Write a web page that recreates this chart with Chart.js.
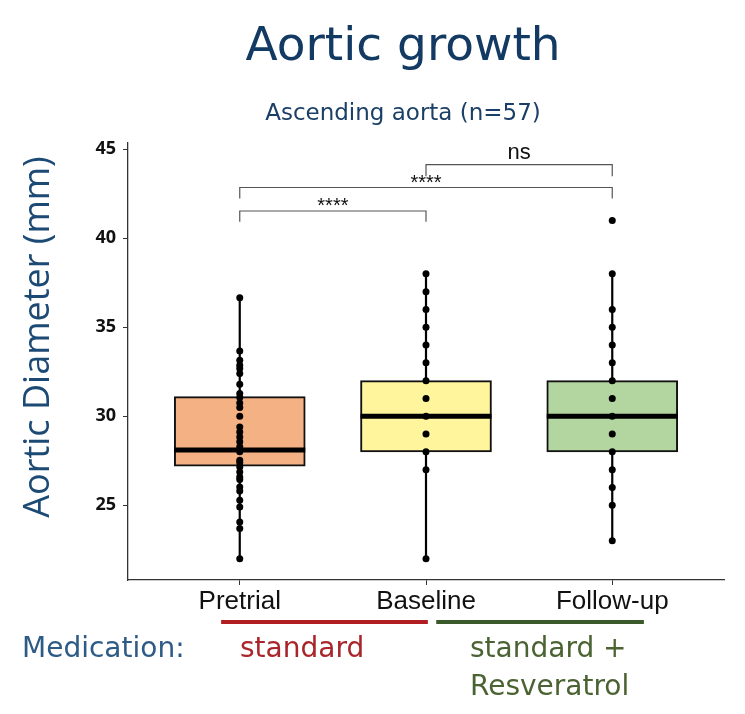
<!DOCTYPE html>
<html>
<head>
<meta charset="utf-8">
<title>Aortic growth</title>
<script src="https://cdn.jsdelivr.net/npm/chart.js@4.4.1/dist/chart.umd.min.js"></script>
<style>
  html, body { margin: 0; padding: 0; background: #fff; }
  #wrap { width: 745px; height: 714px; }
</style>
</head>
<body>
<div id="wrap"><canvas id="myChart" width="745" height="714"></canvas></div>
<script>
// groups on the x axis
const groups = ['Pretrial', 'Baseline', 'Follow-up'];
const groupPos = [1, 2, 3];
const boxColors = ['#f4b183', '#fff59d', '#b3d59f'];

// box statistics (mm)
const q1Values = [27.2, 28, 28];
const medianValues = [28.1, 30, 30];
const q3Values = [31.1, 32, 32];
const whiskerLow = [22, 22, 23];
const whiskerHigh = [36.65, 38, 38];

const pretrialPoints = [36.65, 33.67, 33.15, 32.87, 32.68, 32.4, 31.8, 31.28, 31.05, 30.75,
  30.49, 30.0, 29.4, 29.12, 28.84, 28.56, 28.28, 28.0, 27.53, 27.38, 27.15, 26.87,
  26.59, 26.44, 26.03, 25.8, 25.28, 24.9, 24.06, 23.69, 22.0];
const baselinePoints = [38, 37, 36, 35, 34, 33, 32, 31, 30, 29, 28, 27, 22];
const followupPoints = [41, 38, 36, 35, 34, 33, 32, 31, 30, 29, 28, 27, 26, 25, 23];

const yTicks = [25, 30, 35, 40, 45];

// significance brackets
const bracketFrom = [1, 1, 2];
const bracketTo = [2, 3, 3];
const bracketTop = [41.53, 42.85, 44.14];
const bracketLeg = [40.92, 42.23, 43.48];
const bracketText = ['****', '****', 'ns'];
const bracketTextY = [42.05, 43.3, 44.8];

const allPoints = [pretrialPoints, baselinePoints, followupPoints];

const datasets = [];

// dots
allPoints.forEach(function(pts, i) {
  datasets.push({
    type: 'scatter',
    data: pts.map(v => ({x: groupPos[i], y: v})),
    pointRadius: 3.5,
    pointStyle: 'circle',
    backgroundColor: '#000',
    borderWidth: 0,
    order: 0
  });
});

// medians
datasets.push({
  type: 'scatter',
  data: medianValues.map((v, i) => ({x: groupPos[i], y: v})),
  pointStyle: 'line',
  pointRadius: 65.5,
  borderColor: '#000',
  borderWidth: 5,
  order: 1
});

// boxes
datasets.push({
  type: 'bar',
  data: q1Values.map((v, i) => ({x: groupPos[i], y: [v, q3Values[i]]})),
  backgroundColor: boxColors,
  borderColor: '#111',
  borderWidth: 2,
  borderSkipped: false,
  barThickness: 131,
  order: 2
});

// whiskers
groupPos.forEach(function(p, i) {
  datasets.push({
    type: 'line',
    data: [{x: p, y: whiskerLow[i]}, {x: p, y: q1Values[i]}],
    borderColor: '#000', borderWidth: 2.2, pointRadius: 0, fill: false, order: 3
  });
  datasets.push({
    type: 'line',
    data: [{x: p, y: q3Values[i]}, {x: p, y: whiskerHigh[i]}],
    borderColor: '#000', borderWidth: 2.2, pointRadius: 0, fill: false, order: 3
  });
});

// brackets
bracketFrom.forEach(function(a, i) {
  const b = bracketTo[i];
  datasets.push({
    type: 'line',
    data: [{x: a, y: bracketLeg[i]}, {x: a, y: bracketTop[i]},
           {x: b, y: bracketTop[i]}, {x: b, y: bracketLeg[i]}],
    borderColor: '#555', borderWidth: 1.2, pointRadius: 0, fill: false, order: 3
  });
});

const textPlugin = {
  id: 'texts',
  afterDraw(chart) {
    const ctx = chart.ctx;
    const xs = chart.scales.x, ys = chart.scales.y;
    ctx.save();

    // headers
    ctx.textAlign = 'center';
    ctx.textBaseline = 'alphabetic';
    ctx.fillStyle = '#123a62';
    ctx.font = '47px "DejaVu Sans"';
    ctx.fillText('Aortic growth', 403, 60);
    ctx.font = '23px "DejaVu Sans"';
    ctx.fillStyle = '#1b3f66';
    ctx.fillText('Ascending aorta (n=57)', 403, 120);

    // y axis title
    ctx.save();
    ctx.translate(39, 337);
    ctx.rotate(-Math.PI / 2);
    ctx.textBaseline = 'middle';
    ctx.font = '36px "Open Sans"';
    ctx.fillStyle = '#1c4a74';
    ctx.fillText('Aortic Diameter (mm)', 0, 0);
    ctx.restore();

    // bracket labels
    ctx.fillStyle = '#111';
    bracketText.forEach(function(t, i) {
      ctx.font = t === 'ns' ? '22px "Liberation Sans"' : '20px "Liberation Sans"';
      const m = ctx.measureText(t);
      const cx = xs.getPixelForValue((bracketFrom[i] + bracketTo[i]) / 2);
      const cy = ys.getPixelForValue(bracketTextY[i]);
      ctx.fillText(t, cx, cy + (m.actualBoundingBoxAscent - m.actualBoundingBoxDescent) / 2);
    });

    // medication bars
    ctx.lineWidth = 4;
    ctx.strokeStyle = '#b01e22';
    ctx.beginPath();
    ctx.moveTo(xs.getPixelForValue(0.9), 622);
    ctx.lineTo(xs.getPixelForValue(2.01), 622);
    ctx.stroke();
    ctx.strokeStyle = '#3b5a2c';
    ctx.beginPath();
    ctx.moveTo(xs.getPixelForValue(2.055), 622);
    ctx.lineTo(xs.getPixelForValue(3.17), 622);
    ctx.stroke();

    ctx.textAlign = 'left';
    ctx.font = '28px "DejaVu Sans"';
    ctx.fillStyle = '#2d5b86';
    ctx.fillText('Medication:', 22, 657);
    ctx.fillStyle = '#a8252b';
    ctx.fillText('standard', 240, 657);
    ctx.fillStyle = '#4b6332';
    ctx.fillText('standard +', 470, 657);
    ctx.fillText('Resveratrol', 470, 695);
    ctx.restore();
  }
};

const ctx = document.getElementById('myChart');

new Chart(ctx, {
  type: 'bar',
  data: { datasets: datasets },
  options: {
    responsive: false,
    animation: false,
    events: [],
    layout: { autoPadding: false, padding: { top: 143, right: 21, bottom: 94, left: 0 } },
    plugins: {
      legend: { display: false },
      tooltip: { enabled: false },
      title: { display: false }
    },
    scales: {
      x: {
        type: 'linear',
        min: 0.4,
        max: 3.6,
        offset: false,
        afterBuildTicks: function(scale) {
          scale.ticks = groupPos.map(v => ({value: v}));
        },
        afterFit: function(scale) {
          scale.height = 40;
          scale.paddingLeft = 0;
          scale.paddingRight = 0;
        },
        ticks: {
          callback: function(value, index) { return groups[index]; },
          font: { family: 'Liberation Sans', size: 26 },
          color: '#111',
          padding: 1,
          maxRotation: 0,
          autoSkip: false
        },
        grid: { display: true, offset: false, drawOnChartArea: false, drawTicks: true, tickLength: 5, color: '#333' },
        border: { display: true, color: '#333', width: 1.3 }
      },
      y: {
        type: 'linear',
        min: 20.8,
        max: 45.35,
        afterBuildTicks: function(scale) {
          scale.ticks = yTicks.map(v => ({value: v}));
        },
        afterFit: function(scale) { scale.width = 128; },
        ticks: {
          font: { family: 'Open Sans', size: 18, weight: 'bold' },
          color: '#111',
          padding: 7
        },
        grid: { display: true, drawOnChartArea: false, drawTicks: true, tickLength: 5, color: '#333' },
        border: { display: true, color: '#333', width: 1.3 }
      }
    }
  },
  plugins: [textPlugin]
});
</script>
</body>
</html>
